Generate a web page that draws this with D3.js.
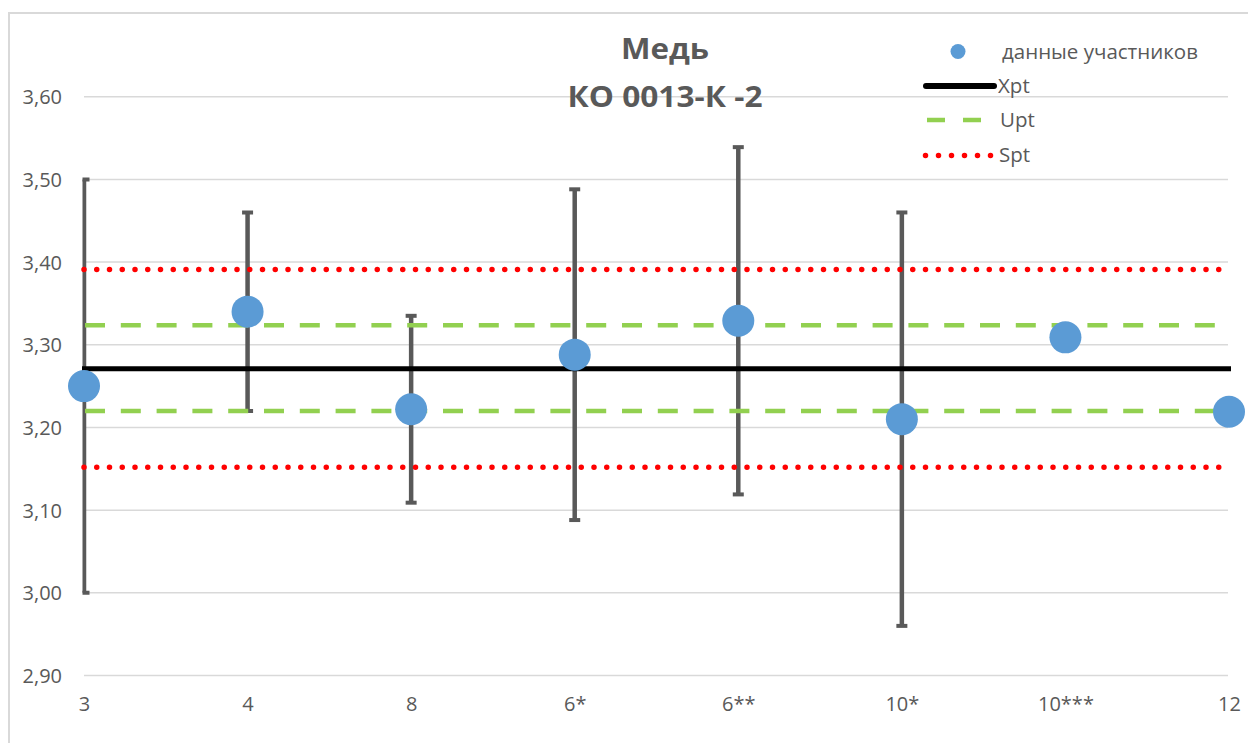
<!DOCTYPE html>
<html>
<head>
<meta charset="utf-8">
<script src="https://cdn.jsdelivr.net/npm/d3@7"></script>
<style>
  html, body { margin: 0; padding: 0; background: #ffffff; }
  svg { display: block; }
  text { font-family: "Open Sans", "Noto Sans", sans-serif; fill: #595959; }
</style>
</head>
<body>
<svg id="chart" width="1248" height="743"></svg>
<script>
// Participant results (copper, КО 0013-К -2)
const categories = ["3", "4", "8", "6*", "6**", "10*", "10***", "12"];
const values     = [3.25, 3.34, 3.222, 3.288, 3.329, 3.21, 3.309, 3.219];
const errors     = [0.25, 0.12, 0.113, 0.20, 0.21, 0.25, null, null];

// Reference levels
const xpt = 3.271;
const upt = [3.220, 3.3235];
const spt = [3.152, 3.391];

const yTicks = [2.9, 3.0, 3.1, 3.2, 3.3, 3.4, 3.5, 3.6];
const titleLines = ["Медь", "КО 0013-К -2"];
const legendLabels = ["данные участников", "Xpt", "Upt", "Spt"];

const svg = d3.select("#chart");
const W = 1248, H = 743;

const x = d3.scalePoint().domain(categories).range([84, 1229]);
const y = d3.scaleLinear().domain([2.9, 3.6]).range([675.5, 96.7]);

const fmt = v => d3.format(".2f")(v).replace(".", ",");

// Chart border
svg.append("rect")
  .attr("x", 9).attr("y", 13)
  .attr("width", W + 20).attr("height", H + 20)
  .attr("fill", "none").attr("stroke", "#d9d9d9").attr("stroke-width", 2);

// Horizontal gridlines
svg.append("g").selectAll("line").data(yTicks).join("line")
  .attr("x1", 84).attr("x2", 1228)
  .attr("y1", d => y(d)).attr("y2", d => y(d))
  .attr("stroke", "#d9d9d9").attr("stroke-width", 1.5);

// Y axis labels
const yAxis = d3.axisLeft(y).tickValues(yTicks).tickFormat(fmt).tickSize(0).tickPadding(0);
const gy = svg.append("g").attr("transform", "translate(62,0)").call(yAxis);
gy.select(".domain").remove();
gy.selectAll("text")
  .attr("font-size", 20).attr("fill", "#595959")
  .attr("font-family", "'Open Sans', sans-serif")
  .attr("dy", "0.35em");

// X axis labels
const xAxis = d3.axisBottom(x).tickSize(0).tickPadding(0);
const gx = svg.append("g").attr("transform", "translate(0,697)").call(xAxis);
gx.select(".domain").remove();
gx.selectAll("text")
  .attr("font-size", 20).attr("fill", "#595959")
  .attr("font-family", "'Open Sans', sans-serif")
  .attr("dy", "0.71em");

// Error bars (clipped to the plot area)
svg.append("defs").append("clipPath").attr("id", "plotClip")
  .append("rect").attr("x", 82.5).attr("y", 0).attr("width", 1170).attr("height", H);

const eb = svg.append("g").attr("clip-path", "url(#plotClip)");
const withErr = categories.map((c, i) => ({ c, v: values[i], e: errors[i] })).filter(d => d.e != null);
eb.selectAll("line.bar").data(withErr).join("line")
  .attr("class", "bar")
  .attr("x1", d => x(d.c)).attr("x2", d => x(d.c))
  .attr("y1", d => y(d.v - d.e)).attr("y2", d => y(d.v + d.e))
  .attr("stroke", "#595959").attr("stroke-width", 4.5);
eb.selectAll("line.capTop").data(withErr).join("line")
  .attr("class", "capTop")
  .attr("x1", d => x(d.c) - 5.5).attr("x2", d => x(d.c) + 5.5)
  .attr("y1", d => y(d.v + d.e)).attr("y2", d => y(d.v + d.e))
  .attr("stroke", "#595959").attr("stroke-width", 4);
eb.selectAll("line.capBot").data(withErr).join("line")
  .attr("class", "capBot")
  .attr("x1", d => x(d.c) - 5.5).attr("x2", d => x(d.c) + 5.5)
  .attr("y1", d => y(d.v - d.e)).attr("y2", d => y(d.v - d.e))
  .attr("stroke", "#595959").attr("stroke-width", 4);

// Reference lines
const x0 = x(categories[0]), x1 = x(categories[categories.length - 1]);
const refs = svg.append("g");
refs.selectAll("line.spt").data(spt).join("line")
  .attr("class", "spt")
  .attr("x1", x0).attr("x2", x1)
  .attr("y1", d => y(d)).attr("y2", d => y(d))
  .attr("stroke", "#ff0000").attr("stroke-width", 5.5)
  .attr("stroke-linecap", "round").attr("stroke-dasharray", "0 12.75");
refs.selectAll("line.upt").data(upt).join("line")
  .attr("class", "upt")
  .attr("x1", x0).attr("x2", x1)
  .attr("y1", d => y(d)).attr("y2", d => y(d))
  .attr("stroke", "#92d050").attr("stroke-width", 4.5)
  .attr("stroke-dasharray", "20 15.8").attr("stroke-dashoffset", -1);
refs.append("line")
  .attr("x1", x0 - 2).attr("x2", x1 + 2)
  .attr("y1", y(xpt)).attr("y2", y(xpt))
  .attr("stroke", "#000000").attr("stroke-width", 5);

// Participant points
svg.append("g").selectAll("circle").data(categories.map((c, i) => ({ c, v: values[i] }))).join("circle")
  .attr("cx", d => x(d.c)).attr("cy", d => y(d.v))
  .attr("r", 16)
  .attr("fill", "#5b9bd5");

// Title, two centred lines
const titleWidths = [88, 195];
svg.selectAll("text.title").data(titleLines).join("text")
  .attr("class", "title")
  .attr("x", 665)
  .attr("y", (d, i) => i === 0 ? 59 : 107)
  .attr("text-anchor", "middle")
  .attr("font-size", 28).attr("font-weight", "bold")
  .attr("fill", "#595959")
  .attr("textLength", (d, i) => titleWidths[i])
  .attr("lengthAdjust", "spacingAndGlyphs")
  .text(d => d);

// Legend
const lg = svg.append("g");
lg.append("circle").attr("cx", 958).attr("cy", 51.5).attr("r", 7.5).attr("fill", "#5b9bd5");
lg.append("line").attr("x1", 926).attr("x2", 994).attr("y1", 86).attr("y2", 86)
  .attr("stroke", "#000").attr("stroke-width", 6).attr("stroke-linecap", "round");
lg.append("line").attr("x1", 927).attr("x2", 983).attr("y1", 120).attr("y2", 120)
  .attr("stroke", "#92d050").attr("stroke-width", 4.5).attr("stroke-dasharray", "18 18");
lg.append("line").attr("x1", 925.5).attr("x2", 991).attr("y1", 155.5).attr("y2", 155.5)
  .attr("stroke", "#ff0000").attr("stroke-width", 5.5)
  .attr("stroke-linecap", "round").attr("stroke-dasharray", "0 13");
const legendPos = [[1002, 59], [998, 93], [1000, 127], [999, 162]];
lg.selectAll("text").data(legendLabels).join("text")
  .attr("x", (d, i) => legendPos[i][0]).attr("y", (d, i) => legendPos[i][1])
  .attr("font-size", 20.5).attr("fill", "#595959")
  .text(d => d);
</script>
</body>
</html>
